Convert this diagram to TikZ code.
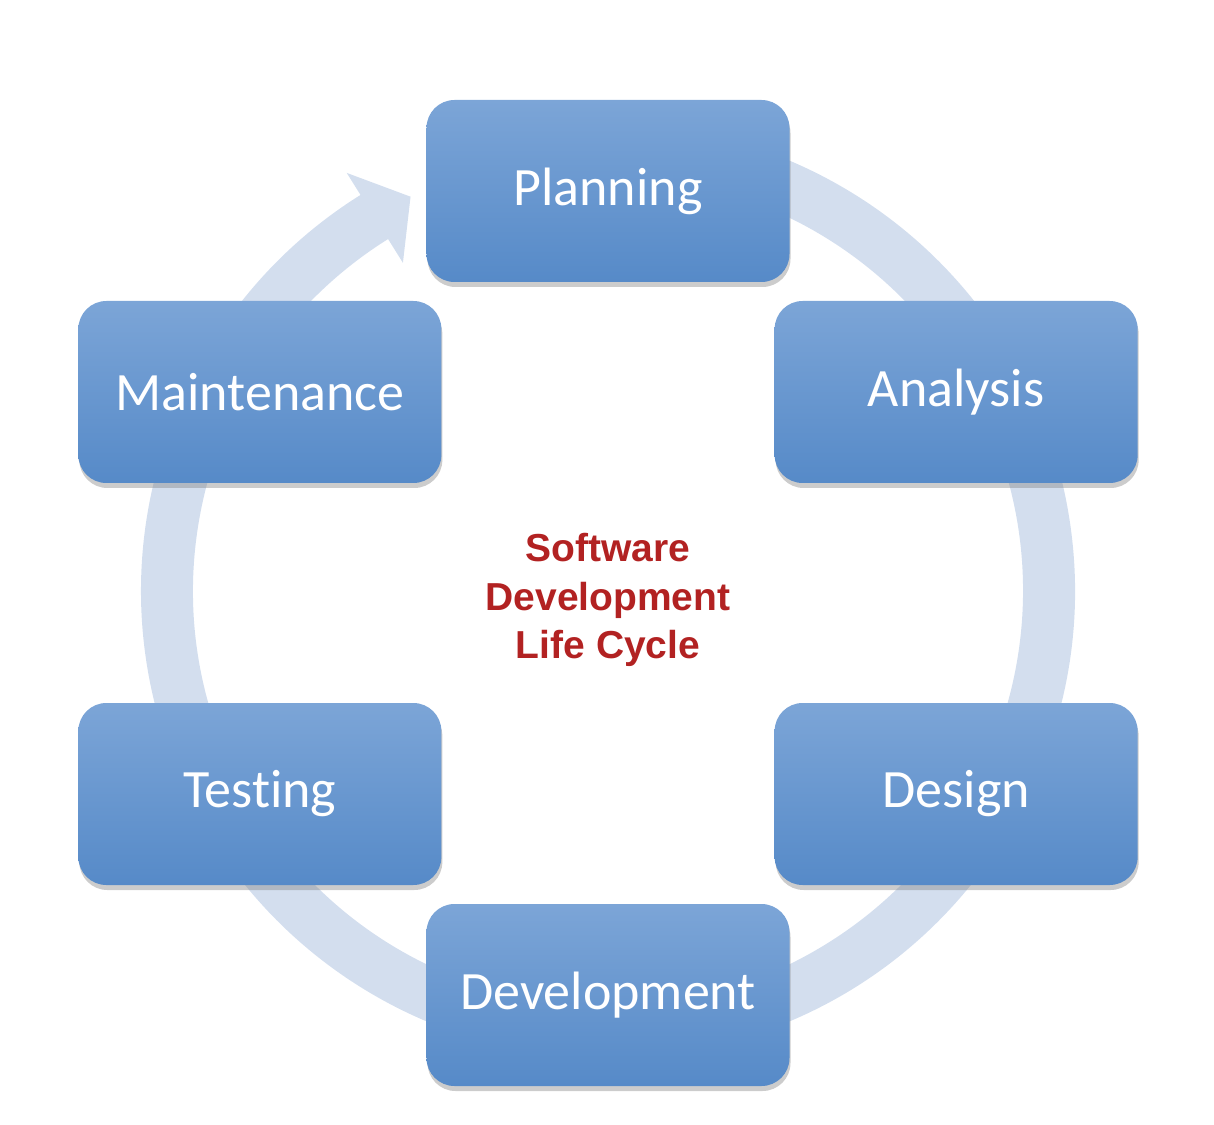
\documentclass[tikz,border=0pt]{standalone}
\usepackage{fontspec}
\setmainfont{Carlito}[Ligatures=NoCommon]
\newfontfamily\titlefont{Liberation Sans}
\usetikzlibrary{shadows}

\definecolor{ringblue}{RGB}{211,222,238}
\definecolor{boxtop}{RGB}{124,165,215}
\definecolor{boxbot}{RGB}{86,138,200}
\definecolor{titlered}{RGB}{178,34,34}

\tikzset{
  phase/.style={rounded corners=28pt, minimum width=363pt, minimum height=182pt,
    top color=boxtop, bottom color=boxbot, text=white,
    font=\fontsize{54}{60}\selectfont,
    drop shadow={opacity=0.4, shadow xshift=1pt, shadow yshift=-5pt}},
  title/.style={text=titlered, align=center,
    font=\titlefont\bfseries\fontsize{39}{48.5}\selectfont}
}

\begin{document}
\begin{tikzpicture}[x=1pt, y=1pt]
    \useasboundingbox (-608,-533) rectangle (606,591);

    % Cycle ring with arrow head
    \fill[ringblue] (100:467) arc[start angle=100, end angle=-238, radius=467]
        -- (-238:493) -- (116.6:441) -- (-238:387) -- (-238:415)
        arc[start angle=-238, end angle=100, radius=415] -- cycle;

    % Phases round the ring
    \foreach \name/\txt [count=\i from 0] in {plan/Planning, analysis/Analysis, design/Design,
        develop/Development, testing/Testing, maint/Maintenance}
        \node[phase, yshift=-2pt] (\name) at (90-60*\i:402) {\txt};

    % Title in the middle
    \node[title] (sdlc) at (0,-9) {Software\\Development\\Life Cycle};
\end{tikzpicture}
\end{document}
